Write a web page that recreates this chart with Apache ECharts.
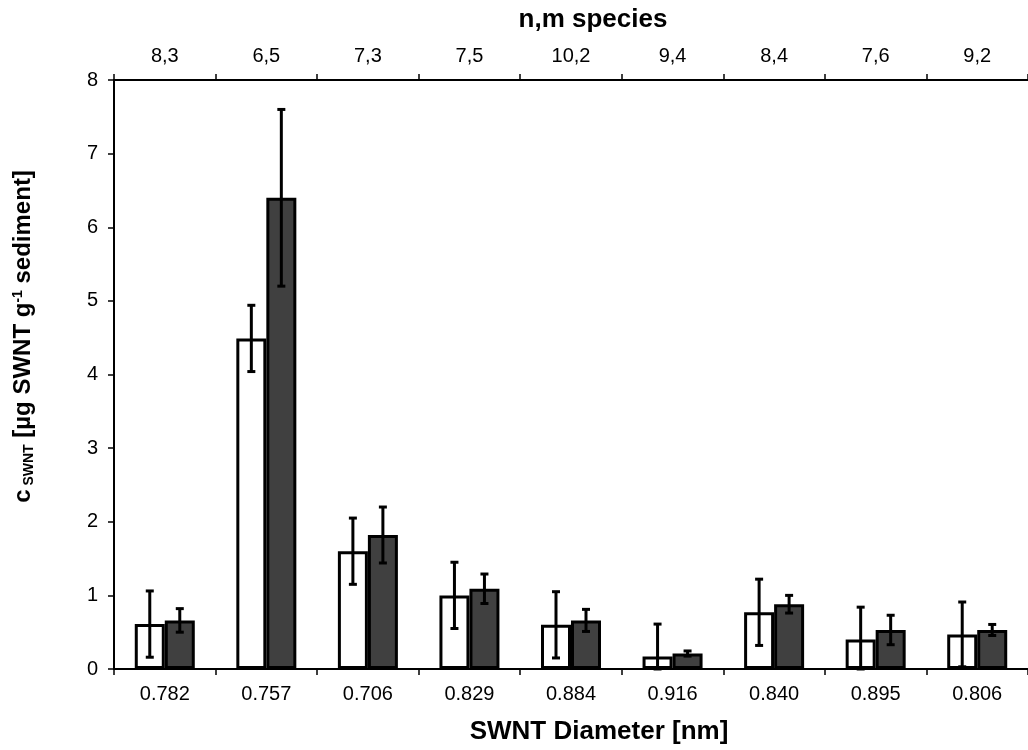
<!DOCTYPE html>
<html>
<head>
<meta charset="utf-8">
<script src="https://cdn.jsdelivr.net/npm/echarts@6/dist/echarts.min.js"></script>
<style>
html,body{margin:0;padding:0;background:#fff;}
#main{width:1028px;height:750px;}
</style>
</head>
<body>
<div id="main"></div>
<script>
// Data
const diameters = ['0.782','0.757','0.706','0.829','0.884','0.916','0.840','0.895','0.806'];
const species = ['8,3','6,5','7,3','7,5','10,2','9,4','8,4','7,6','9,2'];
const whiteMeans = [0.61, 4.49, 1.60, 1.00, 0.60, 0.17, 0.77, 0.40, 0.47];
const whiteErrs  = [0.45, 0.45, 0.45, 0.45, 0.45, 0.44, 0.45, 0.44, 0.44];
const darkMeans  = [0.66, 6.40, 1.82, 1.09, 0.66, 0.21, 0.88, 0.53, 0.53];
const darkErrs   = [0.16, 1.20, 0.38, 0.20, 0.15, 0.035, 0.12, 0.20, 0.075];
const yTicks = [0,1,2,3,4,5,6,7,8];

const FONT = '"Liberation Sans", Arial, sans-serif';

function errSeries(means, errs, offset) {
  return {
    type: 'custom',
    xAxisIndex: 0, yAxisIndex: 0, z: 10,
    data: means.map((m, i) => [i, Math.max(0, m - errs[i]), m + errs[i]]),
    renderItem: function (params, api) {
      const lo = api.coord([api.value(0), api.value(1)]);
      const hi = api.coord([api.value(0), api.value(2)]);
      const x = lo[0] + offset;
      const cw = 4;
      const st = {stroke: '#000', lineWidth: 3};
      return {type: 'group', children: [
        {type: 'line', shape: {x1: x, y1: hi[1], x2: x, y2: lo[1]}, style: st},
        {type: 'line', shape: {x1: x - cw, y1: hi[1], x2: x + cw, y2: hi[1]}, style: st},
        {type: 'line', shape: {x1: x - cw, y1: lo[1], x2: x + cw, y2: lo[1]}, style: st}
      ]};
    }
  };
}

const chart = echarts.init(document.getElementById('main'), null, {renderer: 'canvas'});
const axisCommon = {
  type: 'category',
  boundaryGap: true,
  axisLine: {show: true, lineStyle: {color: '#000', width: 2}},
  axisTick: {show: true, length: 6, lineStyle: {color: '#000', width: 1.5}},
  axisLabel: {color: '#000', fontSize: 20, fontFamily: FONT, margin: 15},
  splitLine: {show: false},
  nameLocation: 'middle',
  nameTextStyle: {color: '#000', fontSize: 26, fontWeight: 'bold', fontFamily: FONT}
};
chart.setOption({
  animation: false,
  backgroundColor: '#fff',
  grid: {left: 114, right: -4, top: 80, bottom: 78, containLabel: false},
  xAxis: [
    Object.assign({}, axisCommon, {
      position: 'bottom', data: diameters,
      name: 'SWNT Diameter [nm]', nameGap: 50,
      nameTextStyle: Object.assign({}, axisCommon.nameTextStyle, {padding: [0, 0, 0, 56]})
    }),
    Object.assign({}, axisCommon, {
      position: 'top', data: species,
      name: 'n,m species', nameGap: 47,
      axisLabel: Object.assign({}, axisCommon.axisLabel, {margin: 14}),
      nameTextStyle: Object.assign({}, axisCommon.nameTextStyle, {padding: [0, 0, 0, 44]})
    })
  ],
  yAxis: {
    type: 'value', min: yTicks[0], max: yTicks[yTicks.length - 1], interval: 1,
    axisLine: {show: true, lineStyle: {color: '#000', width: 2}},
    axisTick: {show: true, length: 6, lineStyle: {color: '#000', width: 1.5}},
    axisLabel: {color: '#000', fontSize: 20, fontFamily: FONT, margin: 16},
    splitLine: {show: false},
    name: '{b|c}{s| SWNT}{b| [µg SWNT g}{p|-1}{b| sediment]}',
    nameLocation: 'middle', nameRotate: 90, nameGap: 76,
    nameTextStyle: {
      color: '#000', fontFamily: FONT, fontWeight: 'bold', padding: [0, 0, 0, 76],
      rich: {
        b: {fontSize: 24, fontWeight: 'bold', fontFamily: FONT, color: '#000', lineHeight: 30, verticalAlign: 'middle'},
        s: {fontSize: 14, fontWeight: 'bold', fontFamily: FONT, color: '#000', padding: [12, 0, 0, 0], verticalAlign: 'middle'},
        p: {fontSize: 14, fontWeight: 'bold', fontFamily: FONT, color: '#000', padding: [0, 0, 10, 0], verticalAlign: 'middle'}
      }
    }
  },
  series: [
    {type: 'bar', name: 'white', data: whiteMeans, barWidth: 30, barGap: '0%',
     itemStyle: {color: '#ffffff', borderColor: '#000', borderWidth: 3}},
    {type: 'bar', name: 'dark', data: darkMeans, barWidth: 30, barGap: '0%',
     itemStyle: {color: '#404040', borderColor: '#000', borderWidth: 3}},
    errSeries(whiteMeans, whiteErrs, -15),
    errSeries(darkMeans, darkErrs, 15)
  ]
});
</script>
</body>
</html>
